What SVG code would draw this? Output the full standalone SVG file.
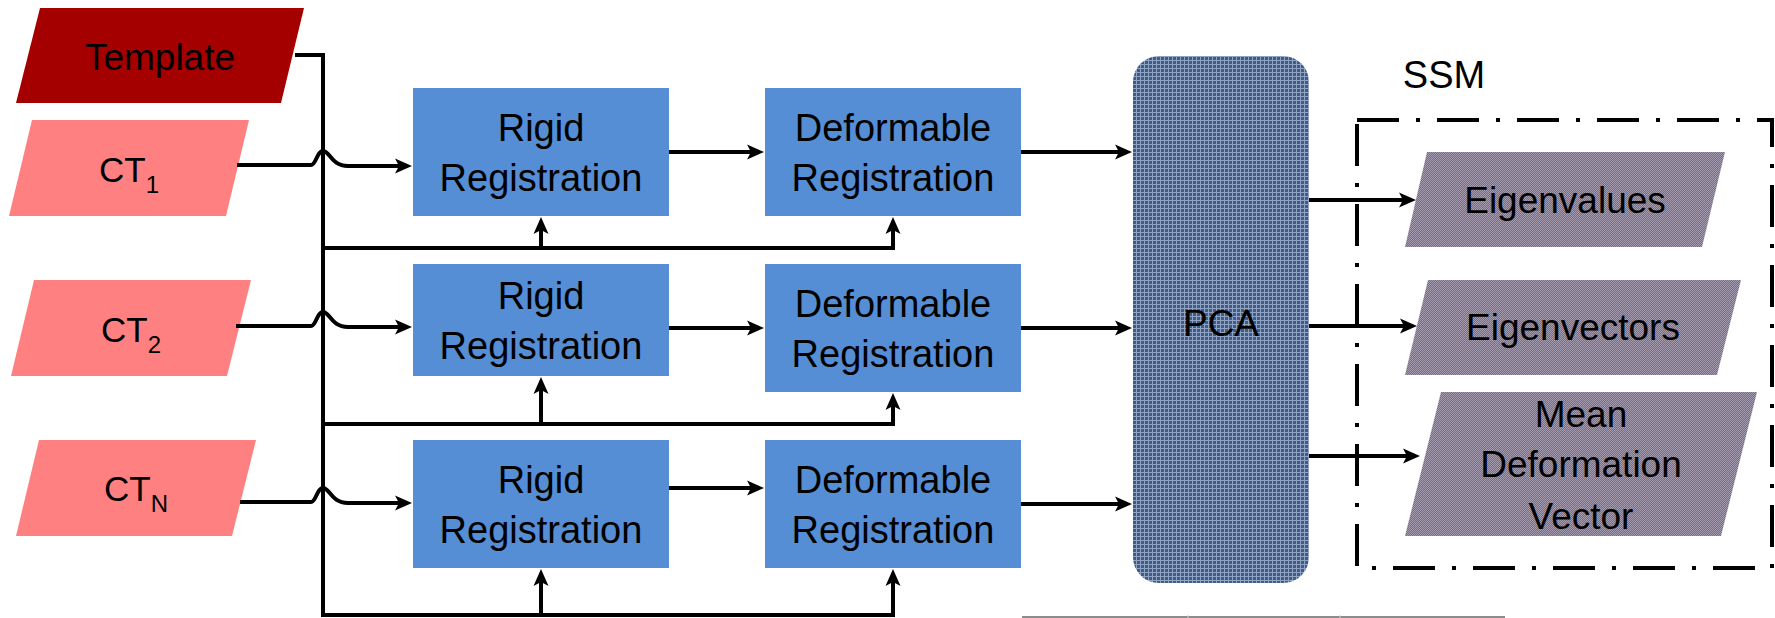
<svg xmlns="http://www.w3.org/2000/svg" width="1775" height="618" viewBox="0 0 1775 618">
<style>
.t{font-family:"Liberation Sans",Arial,sans-serif;fill:#000;text-anchor:middle}
.b{font-size:38px}
.m{font-size:37px}
.ct{font-size:35px}
.box{fill:#558ed5}
.ln{fill:none;stroke:#000;stroke-width:4;stroke-linejoin:miter}
.ar{marker-end:url(#ah)}
.dd{fill:none;stroke:#000;stroke-width:4;stroke-dasharray:42 17 4 17}
</style>
<defs>
<marker id="ah" viewBox="0 0 17 16" markerWidth="17" markerHeight="16" refX="9" refY="8" orient="auto" markerUnits="userSpaceOnUse">
<path d="M0,0.5 L17,8 L0,15.5 L4,8 Z" fill="#000"/>
</marker>
<pattern id="pcaP" width="4" height="4" patternUnits="userSpaceOnUse">
<rect width="4" height="4" fill="#3f5c87"/>
<rect width="4" height="1" fill="#90a3c2"/>
<rect width="1" height="4" fill="#90a3c2"/>
</pattern>
<pattern id="purP" width="2" height="2" patternUnits="userSpaceOnUse">
<rect width="2" height="2" fill="#756b85"/>
<rect width="1" height="1" fill="#a59cb0"/>
<rect x="1" y="1" width="1" height="1" fill="#a59cb0"/>
</pattern>
</defs>

<g id="template">
<polygon points="40,8 304,8 281,103 16,103" fill="#a50000"/>
<text class="t m" x="160" y="70">Template</text>
</g>
<g id="ct1">
<polygon points="32,120 249,120 226,216 9,216" fill="#ff8080"/>
<text class="t ct" x="129" y="182">CT<tspan font-size="24" dy="11">1</tspan></text>
</g>
<g id="ct2">
<polygon points="34,280 251,280 227,376 11,376" fill="#ff8080"/>
<text class="t ct" x="131" y="342">CT<tspan font-size="24" dy="11">2</tspan></text>
</g>
<g id="ctn">
<polygon points="39,440 256,440 232,536 16,536" fill="#ff8080"/>
<text class="t ct" x="136" y="501">CT<tspan font-size="24" dy="11">N</tspan></text>
</g>

<g id="rigid1">
<rect class="box" x="413" y="88" width="256" height="128"/>
<text class="t b" x="541" y="141">Rigid</text>
<text class="t b" x="541" y="191">Registration</text>
</g>
<g id="rigid2">
<rect class="box" x="413" y="264" width="256" height="112"/>
<text class="t b" x="541" y="309">Rigid</text>
<text class="t b" x="541" y="359">Registration</text>
</g>
<g id="rigid3">
<rect class="box" x="413" y="440" width="256" height="128"/>
<text class="t b" x="541" y="493">Rigid</text>
<text class="t b" x="541" y="543">Registration</text>
</g>
<g id="deform1">
<rect class="box" x="765" y="88" width="256" height="128"/>
<text class="t b" x="893" y="141">Deformable</text>
<text class="t b" x="893" y="191">Registration</text>
</g>
<g id="deform2">
<rect class="box" x="765" y="264" width="256" height="128"/>
<text class="t b" x="893" y="317">Deformable</text>
<text class="t b" x="893" y="367">Registration</text>
</g>
<g id="deform3">
<rect class="box" x="765" y="440" width="256" height="128"/>
<text class="t b" x="893" y="493">Deformable</text>
<text class="t b" x="893" y="543">Registration</text>
</g>

<g id="pca">
<rect x="1133" y="56" width="176" height="527" rx="26" ry="26" fill="url(#pcaP)"/>
<text class="t m" x="1221" y="336">PCA</text>
</g>

<g id="ssm">
<text class="t b" x="1444" y="88">SSM</text>
<path class="dd" d="M1357,120 H1772 V568 H1357 Z"/>
</g>
<g id="eigenvalues">
<polygon points="1427,152 1725,152 1702,247 1405,247" fill="url(#purP)"/>
<text class="t m" x="1565" y="213">Eigenvalues</text>
</g>
<g id="eigenvectors">
<polygon points="1428,280 1741,280 1717,375 1405,375" fill="url(#purP)"/>
<text class="t m" x="1573" y="340">Eigenvectors</text>
</g>
<g id="meanvec">
<polygon points="1441,392 1757,392 1721,536 1405,536" fill="url(#purP)"/>
<text class="t m" x="1581" y="427">Mean</text>
<text class="t m" x="1581" y="477">Deformation</text>
<text class="t m" x="1581" y="529">Vector</text>
</g>

<g id="connectors">
<path class="ln" d="M295,55 H323 V617"/>
<path class="ln ar" d="M237,165 H311 C316,165 317,151 323,151 C330,151 331,166 348,166 H404"/>
<path class="ln ar" d="M236,326 H311 C316,326 317,312 323,312 C330,312 331,327 348,327 H404"/>
<path class="ln ar" d="M240,502 H311 C316,502 317,488 323,488 C330,488 331,503 348,503 H404"/>

<path class="ln ar" d="M669,152 H756"/>
<path class="ln ar" d="M669,328 H756"/>
<path class="ln ar" d="M669,488 H756"/>

<path class="ln ar" d="M1021,152 H1124"/>
<path class="ln ar" d="M1021,328 H1124"/>
<path class="ln ar" d="M1021,504 H1124"/>

<path class="ln ar" d="M323,248 H893 V225"/>
<path class="ln ar" d="M541,248 V225"/>
<path class="ln ar" d="M323,424 H893 V401"/>
<path class="ln ar" d="M541,424 V385"/>
<path class="ln ar" d="M323,615 H893 V577"/>
<path class="ln ar" d="M541,615 V577"/>

<path class="ln ar" d="M1309,200 H1408"/>
<path class="ln ar" d="M1309,326 H1409"/>
<path class="ln ar" d="M1309,456 H1412"/>
</g>

<g id="bottom-rule">
<line x1="1022" y1="617" x2="1505" y2="617" stroke="#8c8c8c" stroke-width="2"/>
<line x1="1188" y1="615" x2="1188" y2="618" stroke="#d0d0d0" stroke-width="1"/>
<line x1="1340" y1="615" x2="1340" y2="618" stroke="#d0d0d0" stroke-width="1"/>
</g>
</svg>
